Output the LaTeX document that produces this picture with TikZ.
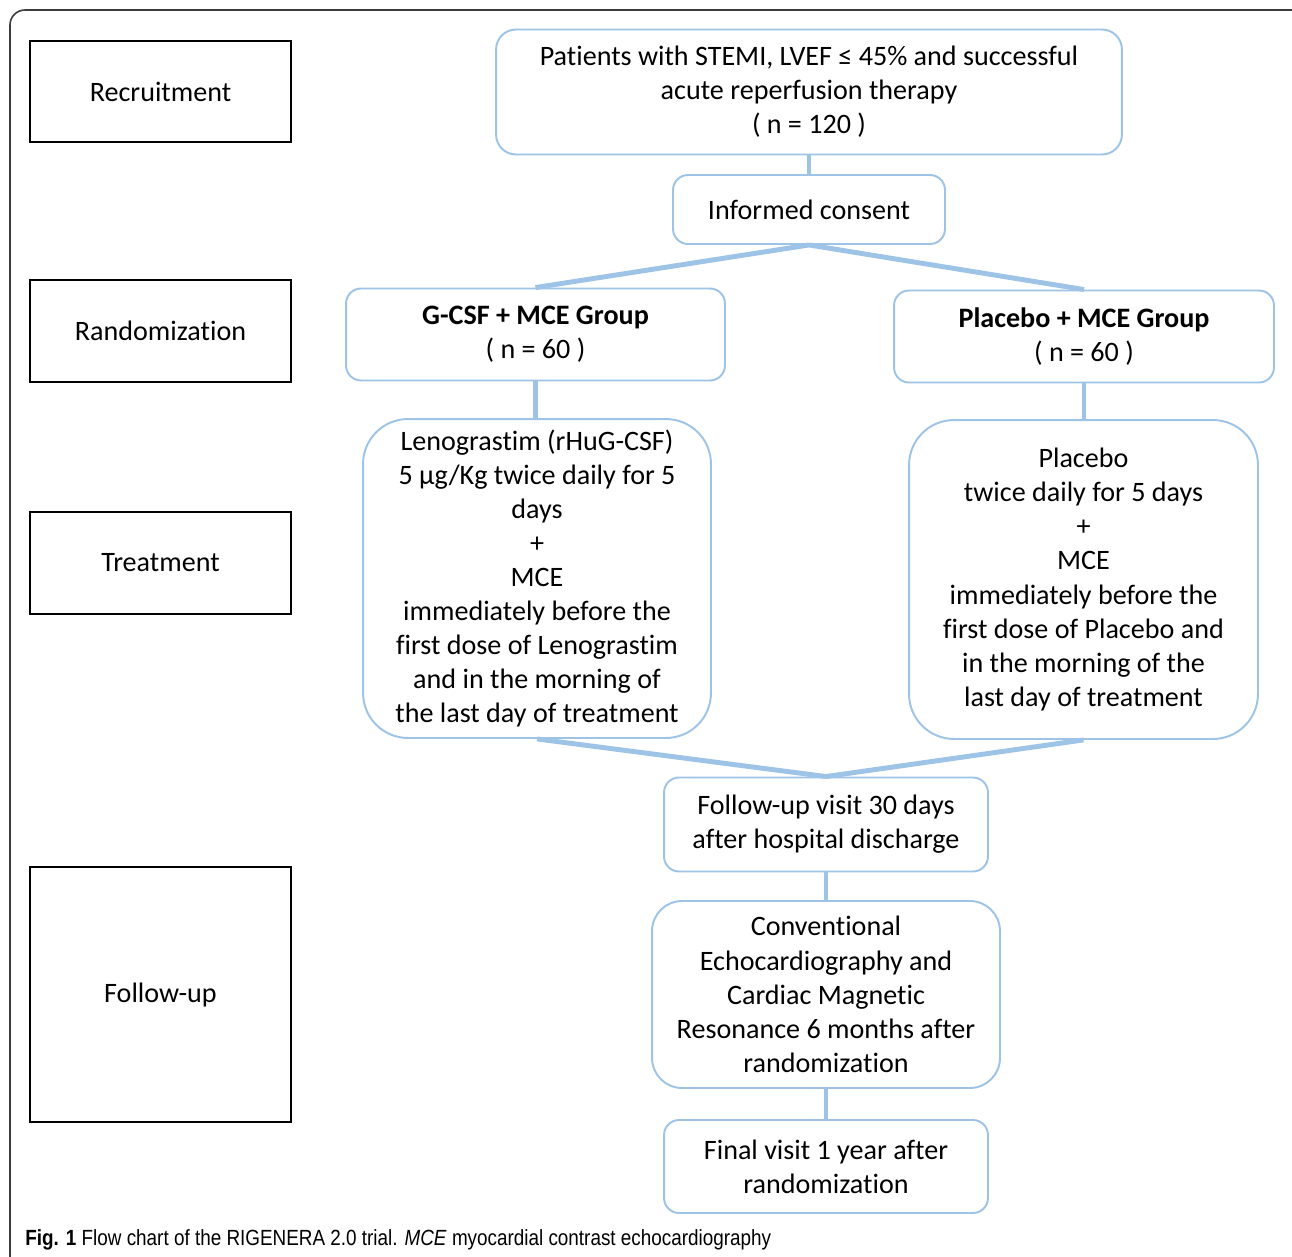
\documentclass[tikz,border=0pt]{standalone}
\usepackage{fontspec}
\usepackage{graphicx}
\setmainfont[RawFeature={-liga;-clig;-calt}]{Carlito}
\newfontfamily\capfont{Liberation Sans}
\definecolor{boxblue}{RGB}{157,195,230}
\definecolor{framegray}{RGB}{60,60,60}
\begin{document}
\begin{tikzpicture}[x=0.02cm, y=-0.02cm,
        every node/.style={font=\fontsize{16}{19.4}\selectfont, align=center, inner sep=0pt},
        stagebox/.style={draw=black, line width=1.1pt, minimum width=5.22cm},
        flowbox/.style={draw=boxblue, line width=1.1pt, rounded corners=0.3cm},
        bigbox/.style={flowbox, rounded corners=0.9cm},
        link/.style={draw=boxblue, line width=2.8pt}]
        \useasboundingbox (0,0) rectangle (1292,1257);
        \clip (0,0) rectangle (1292,1257);
        \draw[framegray, line width=0.9pt, rounded corners=0.3cm] (10,10) rectangle (1310,1280);

        \node[stagebox, minimum height=2.02cm] (rec) at (160.5,91.5) {Recruitment};
        \node[stagebox, minimum height=2.04cm] (rand) at (160.5,331) {Randomization};
        \node[stagebox, minimum height=2.04cm] (treat) at (160.5,563) {Treatment};
        \node[stagebox, minimum height=5.1cm] (fu) at (160.5,994.5) {Follow-up};

        \node[flowbox, minimum width=12.52cm, minimum height=2.5cm, rounded corners=0.4cm] (pat) at (809,92)
            {Patients with STEMI, LVEF ≤ 45\% and successful\\acute reperfusion therapy\\( n = 120 )};
        \node[flowbox, minimum width=5.44cm, minimum height=1.38cm] (ic) at (809,209.5) {Informed consent};
        \node[flowbox, minimum width=7.58cm, minimum height=1.84cm] (gcsf) at (535.5,334.5)
            {\textbf{G-CSF + MCE Group}\\( n = 60 )};
        \node[flowbox, minimum width=7.6cm, minimum height=1.84cm] (plac) at (1084,336.5)
            {\textbf{Placebo + MCE Group}\\( n = 60 )};
        \node[bigbox, minimum width=6.96cm, minimum height=6.38cm] (leno) at (537,578.5)
            {Lenograstim (rHuG-CSF)\\5 µg/Kg twice daily for 5\\days\\+\\MCE\\immediately before the\\first dose of Lenograstim\\and in the morning of\\the last day of treatment};
        \node[bigbox, minimum width=6.98cm, minimum height=6.38cm] (ptr) at (1083.5,579.5)
            {Placebo\\twice daily for 5 days\\+\\MCE\\immediately before the\\first dose of Placebo and\\in the morning of the\\last day of treatment};
        \node[flowbox, minimum width=6.48cm, minimum height=1.88cm] (fv) at (826,824.5)
            {Follow-up visit 30 days\\after hospital discharge};
        \node[bigbox, minimum width=6.96cm, minimum height=3.74cm, rounded corners=0.6cm] (conv) at (826,994.5)
            {Conventional\\Echocardiography and\\Cardiac Magnetic\\Resonance 6 months after\\randomization};
        \node[flowbox, minimum width=6.48cm, minimum height=1.86cm] (final) at (826,1166.5)
            {Final visit 1 year after\\randomization};

        \draw[link] (pat) -- (ic);
        \draw[link] (ic.south) -- (gcsf.north);
        \draw[link] (ic.south) -- (plac.north);
        \draw[link] (gcsf) -- (gcsf.south |- leno.north);
        \draw[link] (plac) -- (plac.south |- ptr.north);
        \draw[link] (leno.south) -- (fv.north);
        \draw[link] (ptr.south) -- (fv.north);
        \draw[link] (fv) -- (conv);
        \draw[link] (conv) -- (final);

        \node[anchor=west, font=\capfont\fontsize{12.5}{14}\selectfont] (cap) at (25,1240)
            {\scalebox{0.86}[1]{\textbf{Fig. 1} Flow chart of the RIGENERA 2.0 trial. \textit{MCE} myocardial contrast echocardiography}};
\end{tikzpicture}
\end{document}
